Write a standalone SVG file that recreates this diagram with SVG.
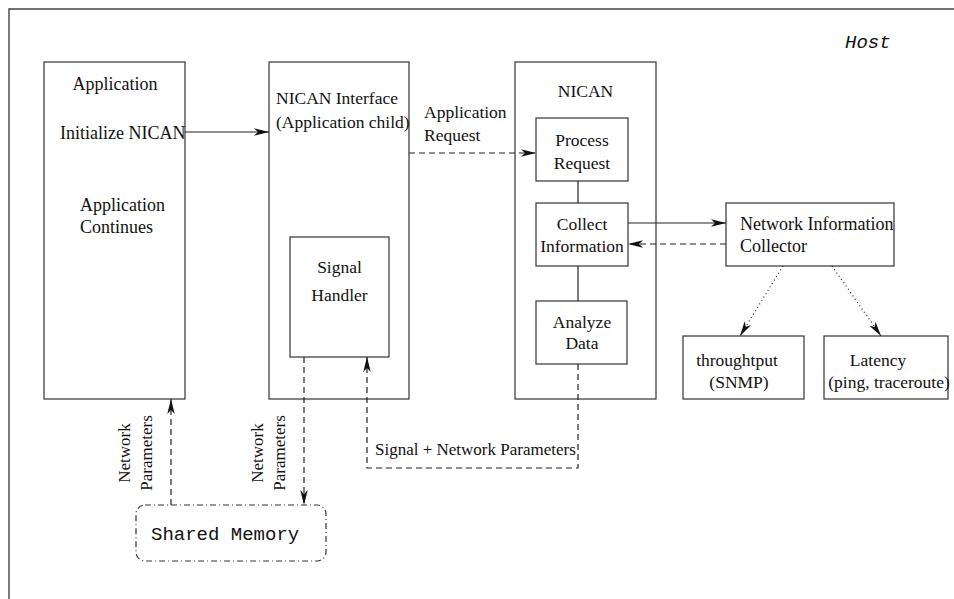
<svg xmlns="http://www.w3.org/2000/svg" width="954" height="599" viewBox="0 0 954 599">
  <style>
    .box { fill: #fff; stroke: #333; stroke-width: 1.2; }
    .lbl { font-family: "Liberation Serif", "Times New Roman", serif; font-size: 17.5px; fill: #111; }
    .big { font-size: 18px; }
    .sm { font-size: 17px; }
    .rot { font-family: "Liberation Serif", "Times New Roman", serif; font-size: 17px; fill: #111; }
    .mono { font-family: "Liberation Mono", "Courier New", monospace; font-size: 19px; fill: #111; }
    .c { text-anchor: middle; }
    .solid { fill: none; stroke: #222; stroke-width: 1.2; }
    .dash { fill: none; stroke: #222; stroke-width: 1.2; stroke-dasharray: 6 4; }
    .dot { fill: none; stroke: #222; stroke-width: 1.2; stroke-dasharray: 1 3; }
  </style>
  <defs>
    <marker id="arr" markerUnits="userSpaceOnUse" markerWidth="15" markerHeight="8" refX="15" refY="3.75" orient="auto">
      <path d="M0,0 L15,3.75 L0,7.5 L4,3.75 z" fill="#111"/>
    </marker>
  </defs>

  <rect width="954" height="599" fill="#fff"/>

  <!-- Host frame (only top and left edges fall inside the page) -->
  <g id="host">
    <path d="M9,599 V9 H954" fill="none" stroke="#444" stroke-width="1.4"/>
    <text class="mono" x="845" y="48" font-style="italic">Host</text>
  </g>

  <g id="application">
    <rect class="box" x="44" y="62" width="141" height="337"/>
    <text class="lbl big c" x="115" y="90">Application</text>
    <text class="lbl big" x="60" y="139">Initialize NICAN</text>
    <text class="lbl big" x="80" y="211">Application</text>
    <text class="lbl big" x="80" y="233">Continues</text>
  </g>

  <g id="nican-interface">
    <rect class="box" x="269" y="62" width="140" height="337"/>
    <text class="lbl" x="276" y="104">NICAN Interface</text>
    <text class="lbl" x="276" y="128">(Application child)</text>
  </g>

  <g id="signal-handler">
    <rect class="box" x="290" y="237" width="99" height="120"/>
    <text class="lbl c" x="339.5" y="273">Signal</text>
    <text class="lbl c" x="339.5" y="301">Handler</text>
  </g>

  <g id="nican">
    <rect class="box" x="515" y="62" width="141" height="337"/>
    <text class="lbl c" x="585.5" y="97">NICAN</text>
  </g>

  <g id="process-request">
    <rect class="box" x="536" y="118" width="92" height="63"/>
    <text class="lbl c" x="582" y="146">Process</text>
    <text class="lbl c" x="582" y="169">Request</text>
  </g>

  <g id="collect-information">
    <rect class="box" x="536" y="203" width="92" height="63"/>
    <text class="lbl c" x="582" y="230">Collect</text>
    <text class="lbl c" x="582" y="252">Information</text>
  </g>

  <g id="analyze-data">
    <rect class="box" x="536" y="301" width="91" height="63"/>
    <text class="lbl c" x="582" y="328">Analyze</text>
    <text class="lbl c" x="582" y="349">Data</text>
  </g>

  <g id="network-information-collector">
    <rect class="box" x="726" y="203" width="168" height="63"/>
    <text class="lbl big" x="740" y="230">Network Information</text>
    <text class="lbl big" x="740" y="252">Collector</text>
  </g>

  <g id="throughput">
    <rect class="box" x="683" y="336" width="121" height="63"/>
    <text class="lbl c" x="737" y="366">throughtput</text>
    <text class="lbl c" x="739" y="388">(SNMP)</text>
  </g>

  <g id="latency">
    <rect class="box" x="824" y="336" width="124" height="63"/>
    <text class="lbl c" x="878" y="366">Latency</text>
    <text class="lbl c" x="889" y="388">(ping, traceroute)</text>
  </g>

  <g id="shared-memory">
    <rect x="136" y="505" width="190" height="56" rx="9" ry="9" fill="#fff" stroke="#333" stroke-width="1.2" stroke-dasharray="6 3 1 3"/>
    <text class="mono" x="151" y="540">Shared Memory</text>
  </g>

  <g id="connectors">
    <line class="solid" x1="185" y1="132" x2="269" y2="132" marker-end="url(#arr)"/>
    <line class="dash" x1="409" y1="153" x2="536" y2="153" marker-end="url(#arr)"/>
    <line class="solid" x1="578" y1="181" x2="578" y2="203"/>
    <line class="solid" x1="578" y1="266" x2="578" y2="301"/>
    <line class="solid" x1="628" y1="223" x2="726" y2="223" marker-end="url(#arr)"/>
    <line class="dash" x1="726" y1="244" x2="628" y2="244" marker-end="url(#arr)"/>
    <line class="dot" x1="783" y1="266" x2="740" y2="336" marker-end="url(#arr)"/>
    <line class="dot" x1="832" y1="266" x2="881" y2="336" marker-end="url(#arr)"/>
    <path class="dash" d="M578,364 V468 H367 V357" marker-end="url(#arr)"/>
    <line class="dash" x1="304" y1="357" x2="304" y2="505" marker-end="url(#arr)"/>
    <line class="dash" x1="171" y1="505" x2="171" y2="399" marker-end="url(#arr)"/>

    <text class="lbl" x="424" y="118">Application</text>
    <text class="lbl" x="424" y="141">Request</text>
    <text class="lbl sm" x="375" y="455">Signal + Network Parameters</text>
    <text class="rot c" transform="translate(130,453) rotate(-90)">Network</text>
    <text class="rot c" transform="translate(152,453) rotate(-90)">Parameters</text>
    <text class="rot c" transform="translate(263,453) rotate(-90)">Network</text>
    <text class="rot c" transform="translate(285,453) rotate(-90)">Parameters</text>
  </g>
</svg>
